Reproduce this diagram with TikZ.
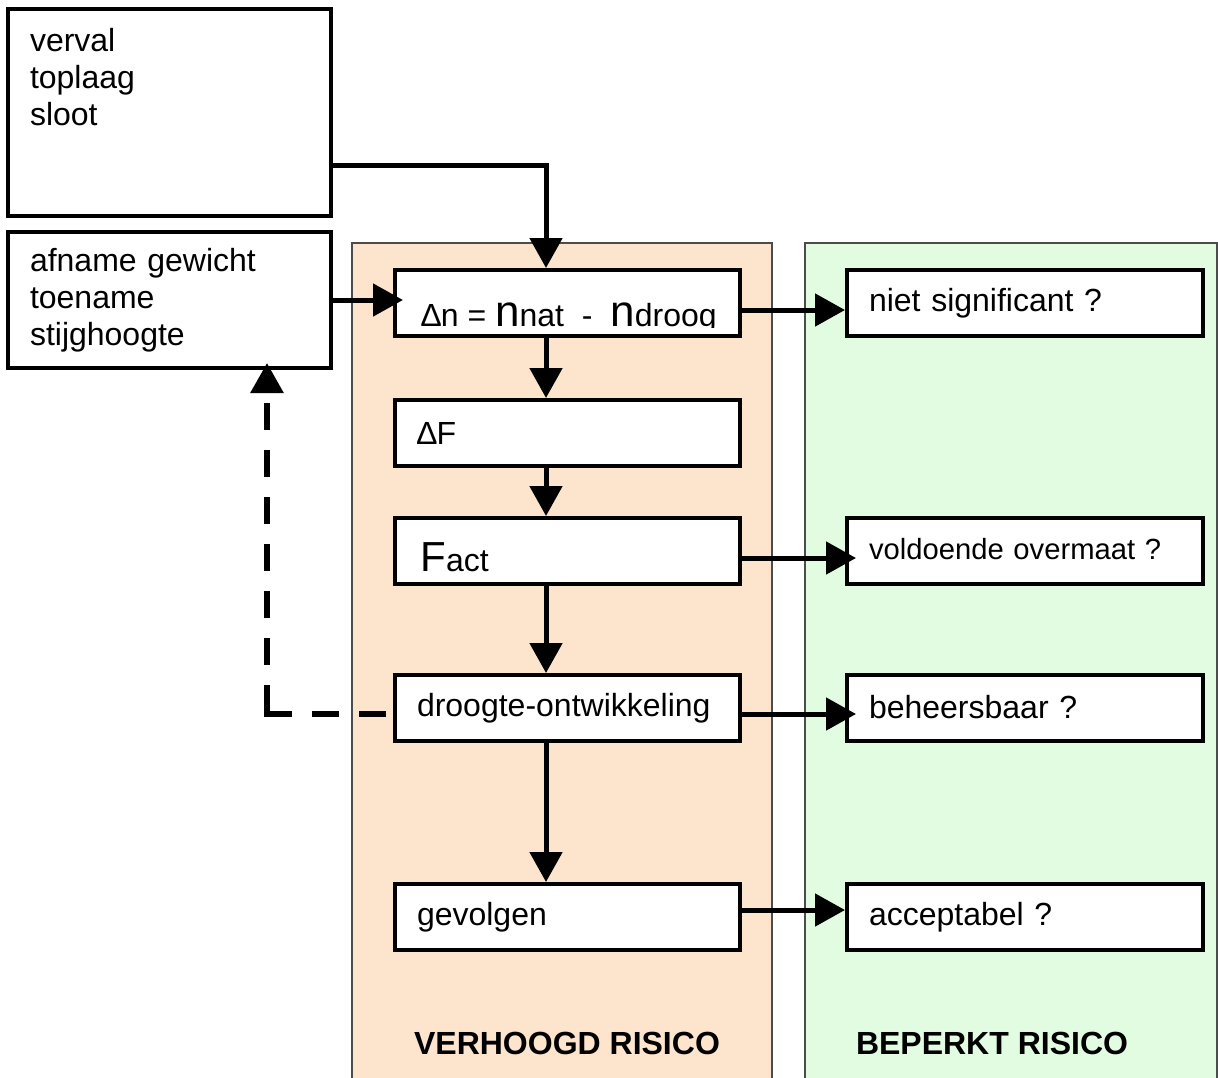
\documentclass[tikz,border=0pt]{standalone}
\usepackage{fontspec}
\setmainfont{Liberation Sans}
\usetikzlibrary{arrows.meta,calc}

\definecolor{peach}{HTML}{FDE4CC}
\definecolor{mint}{HTML}{E2FCE2}

\begin{document}
\begin{tikzpicture}[
        x=0.5pt, y=-0.5pt,
        every node/.style={font=\fontsize{16}{18.5}\selectfont},
        box/.style={rectangle, draw=black, line width=2pt, fill=white, align=left, inner xsep=11pt, inner ysep=0pt},
        midbox/.style={box, text width=150.5pt, minimum height=33pt},
        sidebox/.style={box, text width=156pt, minimum height=33pt},
        inbox/.style={box, text width=139.5pt},
        panel/.style={rectangle, draw=black!70, line width=0.6pt, inner sep=0pt},
        flow/.style={line width=2.5pt, -{Triangle[length=15pt,width=16pt]}},
        feedback/.style={flow, line width=3pt,
            dash pattern=on 13.5pt off 10pt on 13.5pt off 10pt on 13.5pt off 10pt on 27pt off 10pt
                on 13.5pt off 10pt on 13.5pt off 10pt on 13.5pt off 10pt on 13.5pt off 10pt
                on 13.5pt off 10pt on 13.5pt off 10pt,
            dash phase=20pt}
        ]
        \useasboundingbox (0,0) rectangle (1218,1077);

        \node[panel, fill=peach, minimum width=210pt, minimum height=428.5pt] (hoog) at (562,671.5) {};
        \node[panel, fill=mint, minimum width=206pt, minimum height=428.5pt] (laag) at (1011,671.5) {};
        \node[font=\fontsize{16}{18.5}\selectfont\bfseries] (hooglabel) at (567,1043) {VERHOOGD RISICO};
        \node[font=\fontsize{16}{18.5}\selectfont\bfseries] (laaglabel) at (992,1043) {BEPERKT RISICO};

        \node[inbox, minimum height=103.5pt] (topbox) at (169.5,112.5) {verval\\toplaag\\sloot\\\strut\\[-7pt]\strut};
        \node[inbox, minimum height=68pt]    (afname) at (169.5,300)   {afname gewicht\\toename\\stijghoogte};

        \node[midbox] (dn)       at (567.5,303) {};
        \node[midbox] (df)       at (567.5,433) {∆F};
        \node[midbox] (fact)     at (567.5,551) {};
        \node[midbox] (droogte)  at (567.5,708) {droogte-ontwikkeling};
        \node[midbox] (gevolgen) at (567.5,917) {gevolgen};

        \node[sidebox] (signif)  at (1025,303) {niet significant ?};
        \node[sidebox, font=\fontsize{14.6}{18.5}\selectfont] (overmaat) at (1025,551) {\raisebox{2pt}{voldoende overmaat ?}};
        \node[sidebox] (beheer)  at (1025,708) {\raisebox{1pt}{beheersbaar ?}};
        \node[sidebox] (accept)  at (1025,917) {\raisebox{1pt}{acceptabel ?}};

        % clipped formula texts
        \begin{scope}
            \clip (dn.north west) rectangle ([yshift=5.5pt]dn.south east);
            \node[anchor=base, inner sep=0pt] (dntext) at (569,326) {∆n = {\fontsize{22}{22}\selectfont n}nat\ \ -\ \ {\fontsize{22}{22}\selectfont n}droog};
        \end{scope}
        \begin{scope}
            \clip (fact.north west) rectangle ([yshift=4.5pt]fact.south east);
            \node[anchor=base west, inner sep=0pt] (facttext) at (420,571) {{\fontsize{21}{21}\selectfont F}act};
        \end{scope}

        %Lines
        \coordinate (spine) at (546,165);
        \coordinate (fbcorner) at (267,714);
        \draw[flow] (topbox.east |- spine) -- (spine) -- (spine |- dn.north);
        \draw[flow, shorten >=-5pt] (afname.east) -- (afname.east -| dn.west);
        \draw[flow] (dn.south -| spine) -- (df.north -| spine);
        \draw[flow] (df.south -| spine) -- (fact.north -| spine);
        \draw[flow] (fact.south -| spine) -- (droogte.north -| spine);
        \draw[flow] (droogte.south -| spine) -- (gevolgen.north -| spine);
        \draw[flow] ([yshift=-3.5pt]dn.east) -- ([yshift=-3.5pt]dn.east -| signif.west);
        \draw[flow, shorten >=-5.5pt] ([yshift=-3.5pt]fact.east) -- ([yshift=-3.5pt]fact.east -| overmaat.west);
        \draw[flow, shorten >=-5.5pt] ([yshift=-3pt]droogte.east) -- ([yshift=-3pt]droogte.east -| beheer.west);
        \draw[flow] ([yshift=3.5pt]gevolgen.east) -- ([yshift=3.5pt]gevolgen.east -| accept.west);
        \draw[feedback, shorten >=-3.5pt] (droogte.west |- fbcorner) -- (fbcorner) -- (fbcorner |- afname.south);

    \end{tikzpicture}
\end{document}
